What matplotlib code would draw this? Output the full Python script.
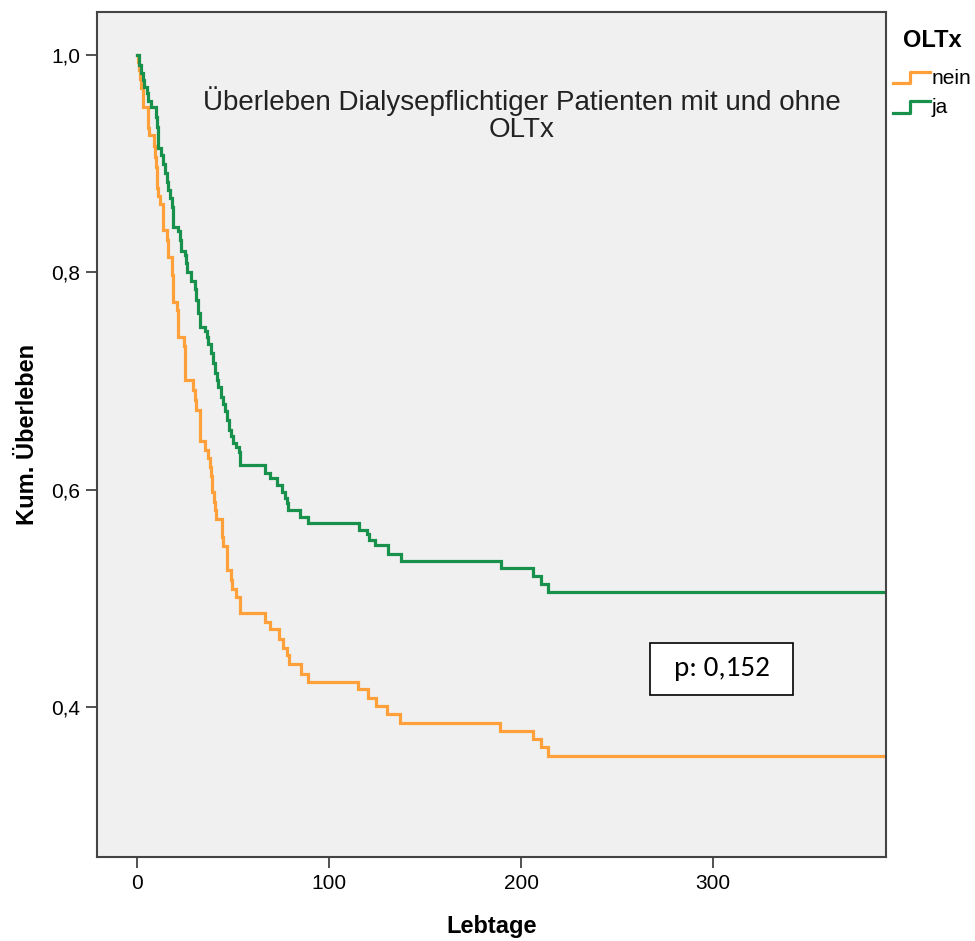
import matplotlib
matplotlib.use("Agg")
import matplotlib.pyplot as plt
from matplotlib.lines import Line2D
from matplotlib.legend_handler import HandlerBase
from matplotlib.patches import Rectangle
from matplotlib import font_manager

names = {f.name for f in font_manager.fontManager.ttflist}
NARROW = "Liberation Sans Narrow" if "Liberation Sans Narrow" in names else "Liberation Sans"
plt.rcParams["font.family"] = ["Liberation Sans", "DejaVu Sans"]

# --- data ---
groups = ["nein", "ja"]

ja_times = [1, 2, 3, 3.9, 5.2, 6.0, 7.3, 9.9, 10.4, 10.9, 11.2, 12.5, 13.5, 14.6,
            15.6, 16.4, 17.2, 18.2, 18.75, 19.0, 21.4, 22.4, 22.7, 25.0, 25.5,
            26.0, 28.1, 30.2, 30.7, 31.8, 32.8, 35.4, 36.5, 37.2, 38.5, 39.6,
            40.6, 41.7, 42.4, 43.75, 44.8, 45.8, 46.9, 47.7, 49.0, 50.0, 51.6,
            52.9, 53.6, 66.7, 69.3, 72.9, 75.5, 77.1, 78.1, 78.9, 84.9, 89.1,
            115.6, 119.8, 120.8, 124.0, 130.7, 137.5, 189.6, 206.25, 210.4, 214.0]
ja_surv = [0.9908, 0.9834, 0.977, 0.9706, 0.965, 0.9577, 0.9522, 0.943, 0.9338,
           0.9246, 0.9145, 0.9081, 0.8998, 0.8915, 0.8832, 0.8759, 0.8685, 0.8602,
           0.852, 0.8418, 0.8382, 0.8299, 0.8198, 0.8161, 0.8087, 0.8005, 0.7922,
           0.7848, 0.7747, 0.7628, 0.7499, 0.7462, 0.7407, 0.7343, 0.726, 0.7168,
           0.7076, 0.7011, 0.6947, 0.6855, 0.6791, 0.6726, 0.6644, 0.6552, 0.6497,
           0.6432, 0.6395, 0.6349, 0.623, 0.6156, 0.611, 0.6046, 0.5982, 0.5926,
           0.588, 0.5816, 0.5752, 0.5697, 0.5632, 0.5595, 0.554, 0.5494, 0.5411,
           0.5347, 0.5283, 0.5209, 0.5136, 0.5062]

nein_times = [0.5, 1.3, 1.8, 2.3, 2.9, 3.3, 5.5, 5.9, 6.5, 9.1, 9.4, 9.9, 10.2,
              10.4, 10.8, 12.0, 13.3, 13.7, 15.5, 16.1, 16.4, 18.1, 18.2, 18.75,
              19.0, 20.7, 21.4, 21.6, 24.5, 25.0, 29.3, 30.2, 31.0, 32.8, 32.9,
              35.4, 37.0, 38.0, 38.5, 38.9, 39.3, 40.1, 40.6, 40.9, 44.1, 44.5,
              45.0, 46.7, 49.0, 49.3, 51.6, 53.5, 53.75, 66.7, 69.3, 74.0, 76.0,
              78.1, 79.2, 85.4, 89.1, 115.1, 120.3, 124.5, 130.2, 137.0, 189.0,
              206.25, 210.4, 214.0]
nein_surv = [0.9936, 0.9862, 0.9779, 0.9697, 0.9614, 0.9522, 0.9421, 0.9329,
             0.9264, 0.9163, 0.9062, 0.897, 0.8869, 0.8777, 0.8703, 0.863, 0.8501,
             0.8391, 0.8299, 0.8207, 0.8143, 0.806, 0.7977, 0.7848, 0.7729, 0.7655,
             0.7536, 0.7407, 0.7324, 0.7011, 0.692, 0.6828, 0.6736, 0.668, 0.6451,
             0.6368, 0.6294, 0.6211, 0.6129, 0.6055, 0.5982, 0.589, 0.5816, 0.5733,
             0.5651, 0.5568, 0.5485, 0.5264, 0.5172, 0.509, 0.5016, 0.4943, 0.4869,
             0.4786, 0.4713, 0.4621, 0.4547, 0.4474, 0.4391, 0.4308, 0.4234, 0.4161,
             0.4087, 0.4005, 0.3931, 0.3857, 0.3775, 0.3701, 0.3628, 0.3545]

followup_end = 400
x_ticks = [0, 100, 200, 300]
y_ticks = [0.4, 0.6, 0.8, 1.0]
y_ticklabels = ["0,4", "0,6", "0,8", "1,0"]
title_text = "Überleben Dialysepflichtiger Patienten mit und ohne\nOLTx"
p_text = "p: 0,152"
colors = {"nein": "#FFA03A", "ja": "#17914B"}

# --- figure ---
fig = plt.figure(figsize=(9.75, 9.41), dpi=100)
ax = fig.add_axes([0.0995, 0.0893, 0.8092, 0.898])
ax.set_facecolor("#F0F0F0")

series = {"nein": (nein_times, nein_surv), "ja": (ja_times, ja_surv)}
handles = []
for g in groups:
    t, s = series[g]
    tt = [0] + list(t) + [followup_end]
    ss = [1.0] + list(s) + [s[-1]]
    ln, = ax.step(tt, ss, where="post", color=colors[g], lw=2.3, solid_joinstyle="miter")
    handles.append(ln)

ax.set_xlim(-20.8, 390)
ax.set_ylim(0.262, 1.0395)
ax.set_xticks(x_ticks)
ax.set_xticklabels([str(v) for v in x_ticks], fontfamily=NARROW, fontsize=15)
ax.set_yticks(y_ticks)
ax.set_yticklabels(y_ticklabels, fontfamily=NARROW, fontsize=15)
ax.tick_params(direction="out", length=8, width=1.2, color="#333333", pad=4)
for sp in ax.spines.values():
    sp.set_color("#444444")
    sp.set_linewidth(1.5)

ax.set_xlabel("Lebtage", fontfamily=NARROW, fontweight="bold", fontsize=17, labelpad=16)
ax.set_ylabel("Kum. Überleben", fontfamily=NARROW, fontweight="bold", fontsize=17, labelpad=9)

ax.text(0.538, 0.878, title_text, transform=ax.transAxes, ha="center", va="center",
        fontsize=20, color="#222222", linespacing=1.05)

# p-value box
ax.add_patch(Rectangle((0.7015, 0.1917), 0.1812, 0.0616, transform=ax.transAxes,
                       facecolor="white", edgecolor="black", lw=1.2, zorder=5))
ax.text(0.7921, 0.2225, p_text, transform=ax.transAxes, ha="center", va="center",
        fontsize=21, fontfamily="Carlito" if "Carlito" in names else "Liberation Sans", zorder=6)


class StepHandler(HandlerBase):
    def create_artists(self, legend, orig_handle, xdescent, ydescent, width, height, fontsize, trans):
        x0 = -xdescent
        y0 = -ydescent
        xs = [x0, x0 + width * 0.45, x0 + width * 0.45, x0 + width]
        ys = [y0 + height * 0.05, y0 + height * 0.05, y0 + height * 0.85, y0 + height * 0.85]
        ln = Line2D(xs, ys, color=orig_handle.get_color(), lw=2.3, transform=trans)
        return [ln]


leg = ax.legend(handles, groups, handler_map={Line2D: StepHandler()},
                loc="upper left", bbox_to_anchor=(1.0, 0.988), frameon=False,
                title="OLTx", handlelength=1.75, handletextpad=0.1,
                borderaxespad=0.0, borderpad=0.35, labelspacing=0.5,
                prop={"family": NARROW, "size": 15})
leg.get_title().set_fontweight("bold")
leg.get_title().set_fontsize(17)
leg.get_title().set_fontfamily(NARROW)
leg._legend_box.sep = 12

fig.savefig("out.png", dpi=100, facecolor="white")
